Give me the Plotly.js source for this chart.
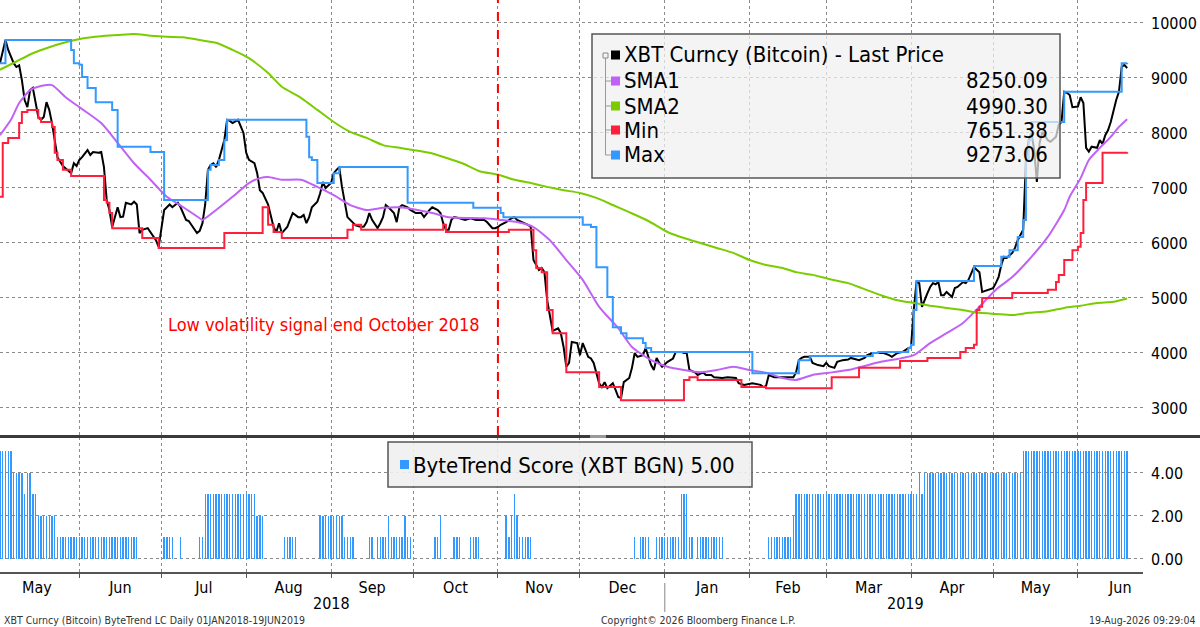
<!DOCTYPE html>
<html>
<head>
<meta charset="utf-8">
<script src="https://cdn.plot.ly/plotly-3.0.1.min.js"></script>
<style>
html,body{margin:0;padding:0;background:#fff;}
#chart{width:1200px;height:627px;}
</style>
</head>
<body>
<div id="chart"></div>
<script>
// ---------------- DATA ----------------
const priceDates = ["2018-05-03","2018-05-05","2018-05-06","2018-05-08","2018-05-09","2018-05-10","2018-05-11","2018-05-12","2018-05-13","2018-05-14","2018-05-15","2018-05-16","2018-05-17","2018-05-18","2018-05-19","2018-05-20","2018-05-21","2018-05-22","2018-05-24","2018-05-26","2018-05-29","2018-05-30","2018-05-31",
"2018-06-01","2018-06-02","2018-06-04","2018-06-05","2018-06-06","2018-06-08","2018-06-09","2018-06-10","2018-06-11","2018-06-12","2018-06-13","2018-06-15","2018-06-16","2018-06-17","2018-06-18","2018-06-20","2018-06-21","2018-06-22","2018-06-23","2018-06-24","2018-06-26","2018-06-27","2018-06-28","2018-06-29","2018-06-30",
"2018-07-02","2018-07-03","2018-07-04","2018-07-05","2018-07-07","2018-07-08","2018-07-09","2018-07-10","2018-07-11","2018-07-13","2018-07-14","2018-07-15","2018-07-16","2018-07-17","2018-07-18","2018-07-19","2018-07-20","2018-07-21","2018-07-22","2018-07-24","2018-07-25","2018-07-26","2018-07-27","2018-07-29","2018-07-30","2018-07-31",
"2018-08-01","2018-08-02","2018-08-04","2018-08-05","2018-08-06","2018-08-07","2018-08-09","2018-08-10","2018-08-11","2018-08-12","2018-08-13","2018-08-14","2018-08-16","2018-08-17","2018-08-18","2018-08-20","2018-08-21","2018-08-22","2018-08-23","2018-08-24","2018-08-25","2018-08-27","2018-08-28","2018-08-29","2018-08-30",
"2018-09-01","2018-09-02","2018-09-03","2018-09-04","2018-09-05","2018-09-07","2018-09-08","2018-09-09","2018-09-10","2018-09-12","2018-09-13","2018-09-14","2018-09-15","2018-09-16","2018-09-18","2018-09-19","2018-09-20","2018-09-21","2018-09-22","2018-09-24","2018-09-25","2018-09-26","2018-09-27","2018-09-29","2018-09-30",
"2018-10-02","2018-10-04","2018-10-05","2018-10-06","2018-10-07","2018-10-08","2018-10-10","2018-10-11","2018-10-12","2018-10-13","2018-10-14","2018-10-15","2018-10-16","2018-10-18","2018-10-20","2018-10-22","2018-10-24","2018-10-25","2018-10-27","2018-10-28","2018-10-30","2018-10-31",
"2018-11-01","2018-11-02","2018-11-04","2018-11-06","2018-11-07","2018-11-08","2018-11-10","2018-11-12","2018-11-13","2018-11-14","2018-11-16","2018-11-17","2018-11-18","2018-11-19","2018-11-21","2018-11-23","2018-11-24","2018-11-25","2018-11-26","2018-11-27","2018-11-28","2018-11-30",
"2018-12-01","2018-12-02","2018-12-04","2018-12-05","2018-12-06","2018-12-07","2018-12-08","2018-12-09","2018-12-10","2018-12-11","2018-12-13","2018-12-14","2018-12-15","2018-12-16","2018-12-17","2018-12-19","2018-12-20","2018-12-21","2018-12-22","2018-12-24","2018-12-25","2018-12-26","2018-12-27","2018-12-28","2018-12-29","2018-12-30","2018-12-31",
"2019-01-02","2019-01-03","2019-01-04","2019-01-05","2019-01-07","2019-01-08","2019-01-09","2019-01-10","2019-01-12","2019-01-13","2019-01-15","2019-01-16","2019-01-18","2019-01-19","2019-01-22","2019-01-24","2019-01-27","2019-01-28","2019-01-30",
"2019-02-02","2019-02-05","2019-02-06","2019-02-07","2019-02-08","2019-02-10","2019-02-15","2019-02-17","2019-02-18","2019-02-19","2019-02-20","2019-02-21","2019-02-23","2019-02-24","2019-02-26","2019-02-28",
"2019-03-01","2019-03-02","2019-03-04","2019-03-05","2019-03-07","2019-03-09","2019-03-10","2019-03-13","2019-03-15","2019-03-16","2019-03-18","2019-03-22","2019-03-24","2019-03-25","2019-03-27","2019-03-29","2019-03-31",
"2019-04-01","2019-04-02","2019-04-03","2019-04-04","2019-04-05","2019-04-07","2019-04-08","2019-04-09","2019-04-10","2019-04-11","2019-04-12","2019-04-13","2019-04-14","2019-04-16","2019-04-17","2019-04-18","2019-04-20","2019-04-21","2019-04-22","2019-04-24","2019-04-25","2019-04-26","2019-04-27","2019-04-29",
"2019-05-01","2019-05-02","2019-05-03","2019-05-04","2019-05-05","2019-05-06","2019-05-08","2019-05-09","2019-05-10","2019-05-12","2019-05-13","2019-05-14","2019-05-15","2019-05-16","2019-05-17","2019-05-18","2019-05-19","2019-05-21","2019-05-22","2019-05-24","2019-05-25","2019-05-26","2019-05-27","2019-05-28","2019-05-29","2019-05-30",
"2019-06-01","2019-06-02","2019-06-03","2019-06-04","2019-06-05","2019-06-06","2019-06-08","2019-06-09","2019-06-10","2019-06-11","2019-06-12","2019-06-13","2019-06-14","2019-06-15","2019-06-16","2019-06-17","2019-06-18","2019-06-19"];
const priceValues = [9270,9690,9510,9270,9200,9230,8960,8600,8470,8780,8820,8545,8290,8240,8290,8560,8420,8180,7560,7400,7270,7450,7400,
7510,7560,7690,7600,7655,7640,7655,7380,6780,6600,6290,6650,6470,6480,6730,6700,6750,6700,6180,6240,6270,6200,6140,6050,5930,
6600,6650,6700,6650,6730,6650,6550,6420,6400,6240,6180,6220,6360,6700,7330,7420,7450,7380,7510,7870,8240,8220,8180,8240,8110,8000,
7640,7510,7450,7270,6960,6910,6700,6470,6290,6200,6360,6180,6290,6420,6545,6470,6470,6510,6360,6470,6650,6750,6900,7110,7000,
7090,7270,7330,7380,7020,6470,6420,6360,6320,6290,6300,6380,6545,6420,6270,6360,6470,6690,6650,6545,6380,6650,6690,6650,6600,
6545,6545,6470,6545,6600,6650,6600,6545,6360,6240,6240,6420,6470,6450,6420,6450,6420,6420,6420,6380,6270,6270,
6290,6330,6380,6450,6470,6420,6380,6330,6290,5690,5510,5545,5470,4960,4400,4450,4360,4110,3750,3820,4200,4180,
3960,4180,3930,3900,3820,3640,3450,3380,3470,3360,3450,3330,3200,3180,3470,3545,3730,4000,3930,3960,4090,3930,3780,3690,3910,3820,3750,
3840,3870,3900,4020,4020,4000,4000,3690,3650,3600,3650,3600,3600,3560,3545,3560,3545,3450,3420,
3450,3420,3380,3400,3600,3560,3560,3560,3650,3870,3910,3930,3930,3820,3780,3760,
3820,3760,3730,3840,3870,3880,3910,3870,3910,3960,4000,4000,3960,3930,4000,4020,4090,
4110,4780,5290,5270,4840,5090,5200,5270,5250,5290,5050,5050,5110,5020,5180,5200,5290,5270,5330,5560,5510,5470,5110,5150,
5180,5270,5380,5600,5750,5730,5820,5910,6050,6240,7510,7870,8000,7700,7110,7820,8020,7870,7840,7930,8150,8200,8750,8730,8690,8470,
8480,8650,8545,7730,7660,7750,7730,7870,7800,7960,8050,8200,8420,8600,8750,9200,9240,9180];

const sma1Dates = ["2018-05-03","2018-05-07","2018-05-10","2018-05-14","2018-05-17","2018-05-22","2018-05-27","2018-06-01","2018-06-09","2018-06-15","2018-06-21","2018-06-27","2018-07-03","2018-07-09","2018-07-15","2018-07-16","2018-07-21","2018-07-27","2018-08-02","2018-08-06","2018-08-09","2018-08-14","2018-08-21","2018-08-27","2018-09-02","2018-09-08","2018-09-14","2018-09-20","2018-09-26","2018-10-08","2018-10-14","2018-10-27","2018-11-02","2018-11-08","2018-11-14","2018-11-20","2018-11-26","2018-12-02","2018-12-08","2018-12-15","2018-12-20","2018-12-27","2019-01-02","2019-01-08","2019-01-14","2019-01-20","2019-01-26","2019-02-01","2019-02-07","2019-02-13","2019-02-18","2019-02-24","2019-03-02","2019-03-09","2019-03-14","2019-03-21","2019-03-27","2019-04-02","2019-04-08","2019-04-14","2019-04-20","2019-04-26","2019-05-02","2019-05-08","2019-05-14","2019-05-21","2019-05-27","2019-05-29","2019-06-02","2019-06-05","2019-06-09","2019-06-13","2019-06-16","2019-06-19"];
const sma1Values = [7960,8240,8545,8780,8840,8870,8650,8470,8180,7820,7450,7150,6840,6650,6450,6420,6600,6840,7090,7180,7200,7150,7150,7020,6870,6690,6600,6640,6650,6545,6470,6450,6420,6380,6290,6050,5690,5330,4840,4450,4110,3870,3750,3690,3650,3690,3750,3690,3640,3545,3510,3600,3640,3690,3750,3840,3890,3960,4180,4360,4545,4840,5150,5380,5690,6110,6600,6840,7180,7510,7730,7930,8110,8250.09];

const sma2Dates = ["2018-05-03","2018-05-09","2018-05-15","2018-05-21","2018-05-27","2018-06-02","2018-06-09","2018-06-15","2018-06-21","2018-06-27","2018-07-03","2018-07-09","2018-07-15","2018-07-21","2018-07-27","2018-08-02","2018-08-09","2018-08-14","2018-08-21","2018-08-27","2018-09-02","2018-09-08","2018-09-14","2018-09-20","2018-09-26","2018-10-01","2018-10-07","2018-10-13","2018-10-19","2018-10-25","2018-11-01","2018-11-07","2018-11-13","2018-11-19","2018-11-25","2018-12-01","2018-12-07","2018-12-13","2018-12-19","2018-12-26","2019-01-02","2019-01-08","2019-01-14","2019-01-20","2019-01-26","2019-02-01","2019-02-07","2019-02-13","2019-02-18","2019-02-24","2019-03-02","2019-03-09","2019-03-14","2019-03-21","2019-03-27","2019-04-02","2019-04-08","2019-04-14","2019-04-20","2019-04-26","2019-05-02","2019-05-08","2019-05-14","2019-05-21","2019-05-27","2019-06-02","2019-06-08","2019-06-14","2019-06-19"];
const sma2Values = [9150,9300,9450,9560,9650,9720,9760,9780,9800,9770,9750,9740,9690,9640,9510,9360,9090,8840,8640,8420,8200,8020,7910,7780,7730,7690,7640,7550,7450,7310,7240,7150,7090,7020,6960,6910,6820,6690,6560,6400,6200,6090,6000,5910,5820,5690,5600,5545,5470,5420,5345,5270,5180,5050,4960,4910,4860,4820,4780,4730,4710,4690,4730,4760,4820,4860,4910,4930,4990.30];

const minDates = ["2018-05-03","2018-05-04","2018-05-06","2018-05-10","2018-05-11","2018-05-13","2018-05-17","2018-05-18","2018-05-22","2018-05-23","2018-05-24","2018-05-26","2018-05-29","2018-06-10","2018-06-11","2018-06-12","2018-06-13","2018-06-24","2018-06-30","2018-07-24","2018-08-07","2018-08-09","2018-08-11","2018-08-14","2018-09-07","2018-09-09","2018-09-12","2018-10-12","2018-10-13","2018-11-05","2018-11-14","2018-11-15","2018-11-17","2018-11-19","2018-11-21","2018-11-26","2018-12-08","2018-12-16","2019-01-08","2019-01-10","2019-01-13","2019-01-29","2019-02-07","2019-03-03","2019-03-13","2019-03-28","2019-04-07","2019-04-19","2019-04-21","2019-04-24","2019-04-25","2019-04-26","2019-04-27","2019-05-08","2019-05-21","2019-05-24","2019-05-25","2019-05-27","2019-05-30","2019-06-01","2019-06-02","2019-06-03","2019-06-04","2019-06-10","2019-06-19"];
const minValues = [6840,7820,7910,8180,8380,8420,8270,8200,8110,7640,7510,7330,7220,6780,6730,6545,6270,6090,5910,6180,6650,6330,6200,6090,6240,6330,6240,6330,6200,6240,5870,5545,5470,4780,4360,3650,3380,3140,3510,3560,3510,3380,3360,3560,3730,3855,3910,4020,4090,4150,4780,4840,5000,5090,5150,5290,5420,5690,5870,5930,6180,6780,7090,7640,7651.38];

const maxDates = ["2018-05-03","2018-05-05","2018-05-29","2018-05-30","2018-06-01","2018-06-02","2018-06-04","2018-06-07","2018-06-13","2018-06-15","2018-06-27","2018-07-02","2018-07-18","2018-07-19","2018-07-22","2018-07-24","2018-07-25","2018-08-23","2018-08-24","2018-08-25","2018-08-27","2018-09-02","2018-09-04","2018-09-29","2018-10-23","2018-11-02","2018-11-03","2018-12-02","2018-12-05","2018-12-07","2018-12-11","2018-12-13","2018-12-16","2018-12-18","2018-12-24","2018-12-25","2018-12-27","2019-02-02","2019-02-19","2019-02-23","2019-03-18","2019-03-20","2019-03-31","2019-04-01","2019-04-02","2019-04-03","2019-04-24","2019-05-04","2019-05-07","2019-05-10","2019-05-12","2019-05-13","2019-05-14","2019-05-15","2019-05-27","2019-06-17","2019-06-19"];
const maxValues = [9270,9690,9510,9270,9240,9020,8820,8560,8420,7750,7655,6780,7330,7420,7510,7870,8240,7930,7560,7510,7090,7270,7380,6730,6640,6545,6470,6330,6290,5560,5020,4470,4360,4270,4180,4090,4020,3630,3870,3945,4000,4020,4090,4150,4780,5310,5580,5750,5870,6110,6420,7510,7870,8200,8750,9270,9273.06];

// ByteTrend score, one value per day from scoreStart
const scoreStart = "2018-05-03";
const scoreMay2018 = [5,5,5,5,5,4,4,4,4,3,4,4,3,3,2,2,2,2,2,2,2,1,1,1,1,1,1,1,1];
const scoreJun2018 = [1,1,1,1,1,1,1,1,1,1,1,1,1,1,1,1,1,1,1,1,1,1,0,0,0,0,0,0,0,0];
const scoreJul2018 = [0,1,1,1,1,0,0,1,0,0,0,0,0,0,1,1,3,3,3,3,3,3,3,3,3,3,3,3,3,3,3];
const scoreAug2018 = [3,3,3,3,2,2,2,0,0,0,0,0,0,0,1,1,1,1,1,0,0,0,0,0,0,0,0,2,2,2,2];
const scoreSep2018 = [2,2,2,2,2,1,1,1,1,0,0,0,0,0,1,1,0,1,1,1,1,2,1,1,1,1,1,2,1,1];
const scoreOct2018 = [0,0,0,0,0,0,0,0,1,1,2,0,0,0,0,1,1,1,0,0,0,1,1,1,1,0,0,0,0,0,0];
const scoreNov2018 = [0,0,0,2,1,2,3,2,1,1,1,1,1,0,0,0,0,0,0,0,0,0,0,0,0,0,0,0,0,0];
const scoreDec2018 = [0,0,0,0,0,0,0,0,0,0,0,0,0,0,0,0,0,0,0,0,1,0,1,1,1,1,0,0,1,1,1];
const scoreJan2019 = [1,1,1,1,1,1,3,3,3,1,1,0,1,1,1,1,1,1,1,1,1,1,0,0,0,0,0,0,0,0,0];
const scoreFeb2019 = [0,0,0,0,0,0,0,1,1,1,1,1,1,1,1,1,2,3,3,3,3,3,3,3,3,3,3,3];
const scoreMar2019 = [3,3,3,3,3,3,3,3,3,3,3,3,3,3,3,3,3,3,3,3,3,3,3,3,3,3,3,3,3,3,3];
const scoreApr2019 = [3,3,3,4,3,4,4,4,4,4,4,4,4,4,4,4,4,4,4,4,4,4,4,4,4,4,4,4,4,4];
const scoreMay2019 = [4,4,4,4,4,4,4,4,4,4,4,5,5,5,5,5,5,5,5,5,5,5,5,5,5,5,5,5,5,5,5];
const scoreJun2019 = [5,5,5,5,5,5,5,5,5,5,5,5,5,5,5,5,5,5,5];

const priceTicks = [3000,4000,5000,6000,7000,8000,9000,10000];
const priceTickText = ["3000","4000","5000","6000","7000","8000","9000","10000"];
const scoreTicks = [0,2,4];
const scoreTickText = ["0.00","2.00","4.00"];

const legendNames = ["XBT Curncy (Bitcoin) - Last Price","SMA1","SMA2","Min","Max"];
const legendValues = ["","8250.09","4990.30","7651.38","9273.06"];
const scoreLegend = "ByteTrend Score (XBT BGN) 5.00";
const noteText = "Low volatility signal end October 2018";
const signalDate = "2018-11-01";

// ---------------- BUILD ----------------
const scoreValues = [].concat(scoreMay2018,scoreJun2018,scoreJul2018,scoreAug2018,scoreSep2018,scoreOct2018,scoreNov2018,scoreDec2018,scoreJan2019,scoreFeb2019,scoreMar2019,scoreApr2019,scoreMay2019,scoreJun2019);
const scoreDates = scoreValues.map((v,i)=>{
  const d = new Date(scoreStart+"T00:00:00Z");
  d.setUTCDate(d.getUTCDate()+i);
  return d.toISOString().slice(0,10);
});

const FONT = "'DejaVu Sans Condensed','DejaVu Sans',sans-serif";
const C = {price:"#000000", sma1:"#c062f5", sma2:"#7acc00", min:"#ff1f3d", max:"#3399ff"};

const PW = 1143, PH = 572;
const px = x => x/PW;
const py = y => (PH - y)/PH;

const traces = [
  {x:priceDates,y:priceValues,type:"scatter",mode:"lines",line:{color:C.price,width:2},xaxis:"x",yaxis:"y"},
  {x:sma1Dates,y:sma1Values,type:"scatter",mode:"lines",line:{color:C.sma1,width:2,shape:"spline",smoothing:0.6},xaxis:"x",yaxis:"y"},
  {x:sma2Dates,y:sma2Values,type:"scatter",mode:"lines",line:{color:C.sma2,width:2,shape:"spline",smoothing:0.6},xaxis:"x",yaxis:"y"},
  {x:minDates,y:minValues,type:"scatter",mode:"lines",line:{color:C.min,width:2,shape:"hv"},xaxis:"x",yaxis:"y"},
  {x:maxDates,y:maxValues,type:"scatter",mode:"lines",line:{color:C.max,width:2,shape:"hv"},xaxis:"x",yaxis:"y"},
  {x:scoreDates,y:scoreValues,type:"bar",marker:{color:C.max,line:{width:0}},width:0.5*86400000,xaxis:"x",yaxis:"y2"}
];

const shapes = [];
const annotations = [];

// red dashed signal line
shapes.push({type:"line",xref:"x",yref:"paper",x0:signalDate,x1:signalDate,y0:py(435),y1:1,line:{color:"#ff0000",width:2,dash:"dash"},layer:"above"});
// panel separator
shapes.push({type:"line",xref:"paper",yref:"paper",x0:0,x1:px(1200),y0:py(436.5),y1:py(436.5),line:{color:"#3a3a3a",width:3},layer:"above"});
shapes.push({type:"rect",xref:"paper",yref:"paper",x0:px(590),x1:px(606),y0:py(438),y1:py(435),fillcolor:"#9a9a9a",line:{width:0},layer:"above"});
// year divider
shapes.push({type:"line",xref:"x",yref:"paper",x0:"2019-01-01",x1:"2019-01-01",y0:py(583),y1:py(612),line:{color:"#888",width:1}});

// main legend box
shapes.push({type:"rect",xref:"paper",yref:"paper",x0:px(592),x1:px(1060),y0:py(178),y1:py(34),fillcolor:"rgba(240,240,240,0.72)",line:{color:"#555",width:1.5},layer:"above"});
// tree connector
shapes.push({type:"rect",xref:"paper",yref:"paper",x0:px(603),x1:px(608),y0:py(58),y1:py(53),fillcolor:"rgba(0,0,0,0)",line:{color:"#888",width:1},layer:"above"});
const rowsY = [55,81,106,130,155];
shapes.push({type:"line",xref:"paper",yref:"paper",x0:px(605.5),x1:px(605.5),y0:py(58),y1:py(155),line:{color:"#999",width:1},layer:"above"});
rowsY.slice(1).forEach(y=>{
  shapes.push({type:"line",xref:"paper",yref:"paper",x0:px(605.5),x1:px(611),y0:py(y),y1:py(y),line:{color:"#999",width:1},layer:"above"});
});
const legColors = [C.price,C.sma1,C.sma2,C.min,C.max];
rowsY.forEach((y,i)=>{
  shapes.push({type:"rect",xref:"paper",yref:"paper",x0:px(611),x1:px(620),y0:py(y+4.5),y1:py(y-4.5),fillcolor:legColors[i],line:{width:0},layer:"above"});
  annotations.push({xref:"paper",yref:"paper",x:px(622),y:py(y),xanchor:"left",yanchor:"middle",text:legendNames[i],showarrow:false,font:{family:FONT,size:22,color:"#000"}});
  if(legendValues[i]) annotations.push({xref:"paper",yref:"paper",x:px(1050),y:py(y),xanchor:"right",yanchor:"middle",text:legendValues[i],showarrow:false,font:{family:FONT,size:22,color:"#000"}});
});

// score legend box
shapes.push({type:"rect",xref:"paper",yref:"paper",x0:px(388),x1:px(752),y0:py(487),y1:py(442),fillcolor:"rgba(240,240,240,0.9)",line:{color:"#555",width:1.5},layer:"above"});
shapes.push({type:"rect",xref:"paper",yref:"paper",x0:px(400),x1:px(409),y0:py(469),y1:py(460),fillcolor:C.max,line:{width:0},layer:"above"});
annotations.push({xref:"paper",yref:"paper",x:px(411),y:py(465),xanchor:"left",yanchor:"middle",text:scoreLegend,showarrow:false,font:{family:FONT,size:22,color:"#000"}});

// note
annotations.push({xref:"paper",yref:"paper",x:px(324),y:py(325),xanchor:"center",yanchor:"middle",text:noteText,showarrow:false,font:{family:FONT,size:18,color:"#ff0000"}});

// year labels
annotations.push({xref:"x",yref:"paper",x:"2018-09-01",y:py(603),xanchor:"center",yanchor:"middle",text:"2018",showarrow:false,font:{family:FONT,size:16,color:"#000"}});
annotations.push({xref:"x",yref:"paper",x:"2019-03-30",y:py(603),xanchor:"center",yanchor:"middle",text:"2019",showarrow:false,font:{family:FONT,size:16,color:"#000"}});

// footer
annotations.push({xref:"paper",yref:"paper",x:px(2),y:py(620),xanchor:"left",yanchor:"middle",text:"XBT Curncy (Bitcoin) ByteTrend LC Daily 01JAN2018-19JUN2019",showarrow:false,font:{family:FONT,size:10.5,color:"#333"}});
annotations.push({xref:"paper",yref:"paper",x:px(698),y:py(620),xanchor:"center",yanchor:"middle",text:"Copyright© 2026 Bloomberg Finance L.P.",showarrow:false,font:{family:FONT,size:10.5,color:"#333"}});
annotations.push({xref:"paper",yref:"paper",x:px(1198),y:py(620),xanchor:"right",yanchor:"middle",text:"19-Aug-2026 09:29:04",showarrow:false,font:{family:FONT,size:10.5,color:"#333"}});

const gridStyle = {showgrid:true,gridcolor:"#8a8a8a",griddash:"dot",gridwidth:1};

const layout = {
  width:1200,height:627,
  margin:{l:0,r:57,t:0,b:55,pad:0},
  paper_bgcolor:"#ffffff",plot_bgcolor:"#ffffff",
  showlegend:false,
  font:{family:FONT,size:16,color:"#000"},
  bargap:0,
  xaxis:Object.assign({
    type:"date",range:["2018-05-03","2019-06-24 19:00"],anchor:"y2",
    dtick:"M1",tick0:"2018-05-01",tickformat:"%b",ticklabelmode:"period",
    ticks:"outside",ticklen:4,tickcolor:"#555",tickwidth:1,ticklabelstandoff:-4,
    showline:true,linecolor:"#555",linewidth:1.5,zeroline:false,
    tickfont:{family:FONT,size:16,color:"#000"},automargin:false
  },gridStyle),
  yaxis:Object.assign({
    domain:[137/PH,1],range:[2509,10418],side:"right",anchor:"x",
    tickvals:priceTicks,ticktext:priceTickText,ticks:"",showline:false,zeroline:false,
    ticklabelstandoff:7,tickfont:{family:FONT,size:16,color:"#000"},automargin:false
  },gridStyle),
  yaxis2:Object.assign({
    domain:[0,135/PH],range:[-0.605,5.674],side:"right",anchor:"x",
    tickvals:scoreTicks,ticktext:scoreTickText,ticks:"",showline:false,zeroline:false,
    ticklabelstandoff:7,tickfont:{family:FONT,size:16,color:"#000"},automargin:false
  },gridStyle),
  shapes:shapes,
  annotations:annotations
};

Plotly.newPlot("chart",traces,layout,{staticPlot:true,displayModeBar:false});
</script>
</body>
</html>
